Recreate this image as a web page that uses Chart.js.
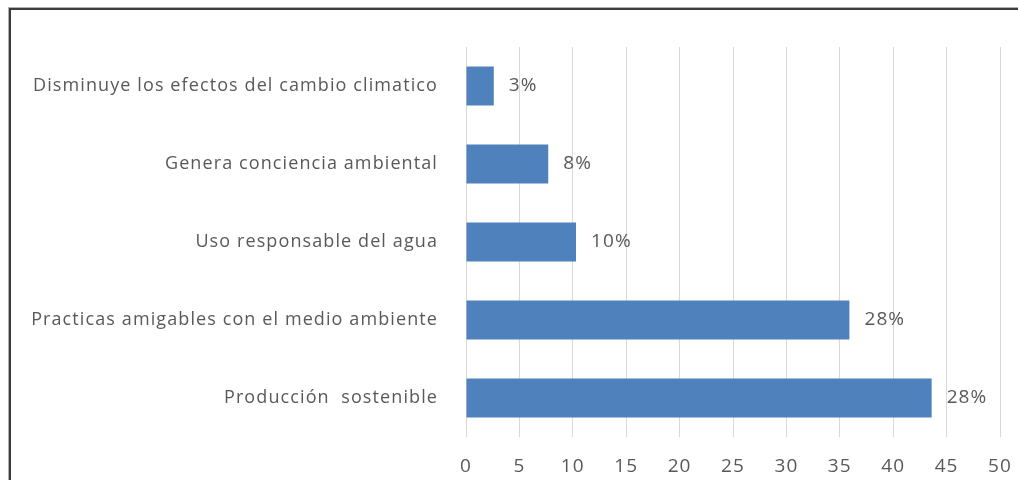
<!DOCTYPE html>
<html>
<head>
<meta charset="utf-8">
<script src="https://cdn.jsdelivr.net/npm/chart.js@4"></script>
<style>
  html, body { margin: 0; padding: 0; background: #fff; }
  #wrap { position: relative; width: 1018px; height: 480px; overflow: hidden; }
  #frame {
    position: absolute; left: 9px; top: 8px; width: 1100px; height: 600px;
    border-left: 2px solid #3c3c3c; border-top: 2px solid #3c3c3c;
    box-shadow: -1px -1px 0 #b0b0b0;
  }
  canvas { position: absolute; left: 0; top: 0; }
</style>
</head>
<body>
<div id="wrap">
  <div id="frame"></div>
  <canvas id="chart" width="1018" height="480"></canvas>
</div>
<script>
// Survey answers, top to bottom as in the chart
const categories = [
  "Disminuye los efectos del cambio climatico",
  "Genera conciencia ambiental",
  "Uso responsable del agua",
  "Practicas amigables con el medio ambiente",
  "Producción  sostenible"
];
// Bar lengths
const counts = [2.6, 7.7, 10.3, 35.9, 43.6];
// Labels printed next to each bar
const pctLabels = ["3%", "8%", "10%", "28%", "28%"];
const xTicks = [0, 5, 10, 15, 20, 25, 30, 35, 40, 45, 50];

const textColor = "#595959";
const fontFamily = "'Open Sans', sans-serif";
const spacing = "1.1px";

// The source text is spaced out a bit, canvas letterSpacing gets close to it
const spacedText = {
  id: "spacedText",
  beforeLayout(chart) { chart.ctx.letterSpacing = spacing; },
  beforeDraw(chart) { chart.ctx.letterSpacing = spacing; }
};

// Small inline plugin for the value labels at the end of the bars
const barLabels = {
  id: "barLabels",
  afterDatasetsDraw(chart) {
    const ctx = chart.ctx;
    const meta = chart.getDatasetMeta(0);
    ctx.save();
    ctx.font = "19px " + fontFamily;
    ctx.fillStyle = textColor;
    ctx.textAlign = "left";
    ctx.textBaseline = "middle";
    meta.data.forEach((bar, i) => {
      ctx.fillText(pctLabels[i], bar.x + 15, bar.y);
    });
    ctx.restore();
  }
};

new Chart(document.getElementById("chart"), {
  type: "bar",
  data: {
    labels: categories,
    datasets: [{
      data: counts,
      backgroundColor: "#4F81BD",
      borderWidth: 0,
      categoryPercentage: 1,
      barPercentage: 0.5
    }]
  },
  options: {
    indexAxis: "y",
    responsive: false,
    animation: false,
    layout: { padding: { top: 47, right: 18, bottom: 0, left: 0 } },
    plugins: {
      legend: { display: false },
      tooltip: { enabled: false }
    },
    scales: {
      x: {
        min: 0,
        max: 50,
        afterBuildTicks: scale => { scale.ticks = xTicks.map(v => ({ value: v })); },
        afterFit: scale => {
          scale.height = 43;
          scale.paddingLeft = 0;
          scale.paddingRight = 0;
        },
        grid: { color: "#D9D9D9", drawTicks: false },
        border: { display: false },
        ticks: { color: textColor, font: { family: fontFamily, size: 19 }, padding: 18 }
      },
      y: {
        afterFit: scale => { scale.width = 466; },
        grid: { display: false, drawTicks: false },
        border: { display: false },
        ticks: { color: textColor, font: { family: fontFamily, size: 18 }, padding: 28 }
      }
    }
  },
  plugins: [spacedText, barLabels]
});
</script>
</body>
</html>
